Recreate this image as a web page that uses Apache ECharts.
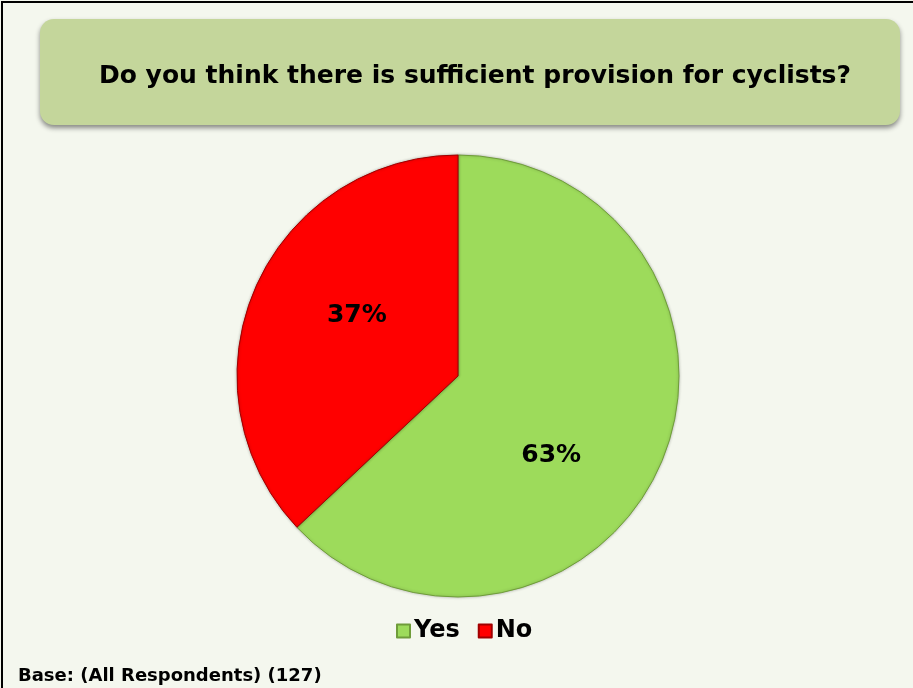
<!DOCTYPE html>
<html>
<head>
<meta charset="utf-8">
<script src="https://cdn.jsdelivr.net/npm/echarts@6/dist/echarts.min.js"></script>
<style>
  html, body { margin: 0; padding: 0; background: #f4f7ee; }
  #chart { width: 913px; height: 688px; }
</style>
</head>
<body>
<div id="chart"></div>
<script>
// data
var categories = ['Yes', 'No'];
var shares = [63, 37];
var colours = ['#9ddb5b', '#ff0000'];
var titleText = 'Do you think there is sufficient provision for cyclists?';
var baseText = 'Base: (All Respondents) (127)';

var chart = echarts.init(document.getElementById('chart'));

// excel puts its labels a bit off the mid radius
var labelNudge = [[-11, 34], [3, -15]];
var edgeColours = ['#6f9c3a', '#a00000'];

var pieData = categories.map(function (name, i) {
  return {
    name: name,
    value: shares[i],
    itemStyle: { color: colours[i], borderColor: edgeColours[i] },
    label: { offset: labelNudge[i] }
  };
});

var option = {
  backgroundColor: '#f4f7ee',
  title: {
    text: titleText,
    left: 470,
    top: 59,
    textAlign: 'center',
    textStyle: {
      fontFamily: 'DejaVu Sans',
      fontWeight: 'bold',
      fontSize: 25,
      color: '#000'
    }
  },
  graphic: [
    {
      type: 'rect',
      z: -1,
      shape: { x: 2, y: 2, width: 920, height: 700 },
      style: { fill: 'none', stroke: '#000', lineWidth: 2 }
    },
    {
      type: 'rect',
      z: -1,
      shape: { x: 40, y: 19, width: 860, height: 106, r: 14 },
      style: {
        fill: '#c4d69b',
        shadowBlur: 5,
        shadowOffsetY: 3,
        shadowColor: 'rgba(0,0,0,0.45)'
      }
    },
    {
      type: 'text',
      left: 18,
      top: 667,
      style: {
        text: baseText,
        fontFamily: 'DejaVu Sans',
        fontWeight: 'bold',
        fontSize: 18,
        fill: '#000'
      }
    }
  ],
  legend: {
    data: categories,
    left: 391,
    top: 614,
    itemWidth: 13,
    itemHeight: 13,
    itemGap: 18,
    icon: 'rect',
    textStyle: {
      fontFamily: 'DejaVu Sans',
      fontWeight: 'bold',
      fontSize: 24,
      color: '#000',
      padding: [0, 0, 0, -1]
    }
  },
  series: [{
    type: 'pie',
    center: [458, 376],
    radius: 221,
    startAngle: 90,
    clockwise: true,
    silent: true,
    animation: false,
    itemStyle: {
      borderWidth: 1,
      shadowBlur: 3,
      shadowColor: 'rgba(0,0,0,0.25)'
    },
    label: {
      show: true,
      position: 'inside',
      formatter: '{c}%',
      fontFamily: 'DejaVu Sans',
      fontWeight: 'bold',
      fontSize: 25,
      color: '#000'
    },
    labelLine: { show: false },
    data: pieData
  }]
};

chart.setOption(option);
</script>
</body>
</html>
